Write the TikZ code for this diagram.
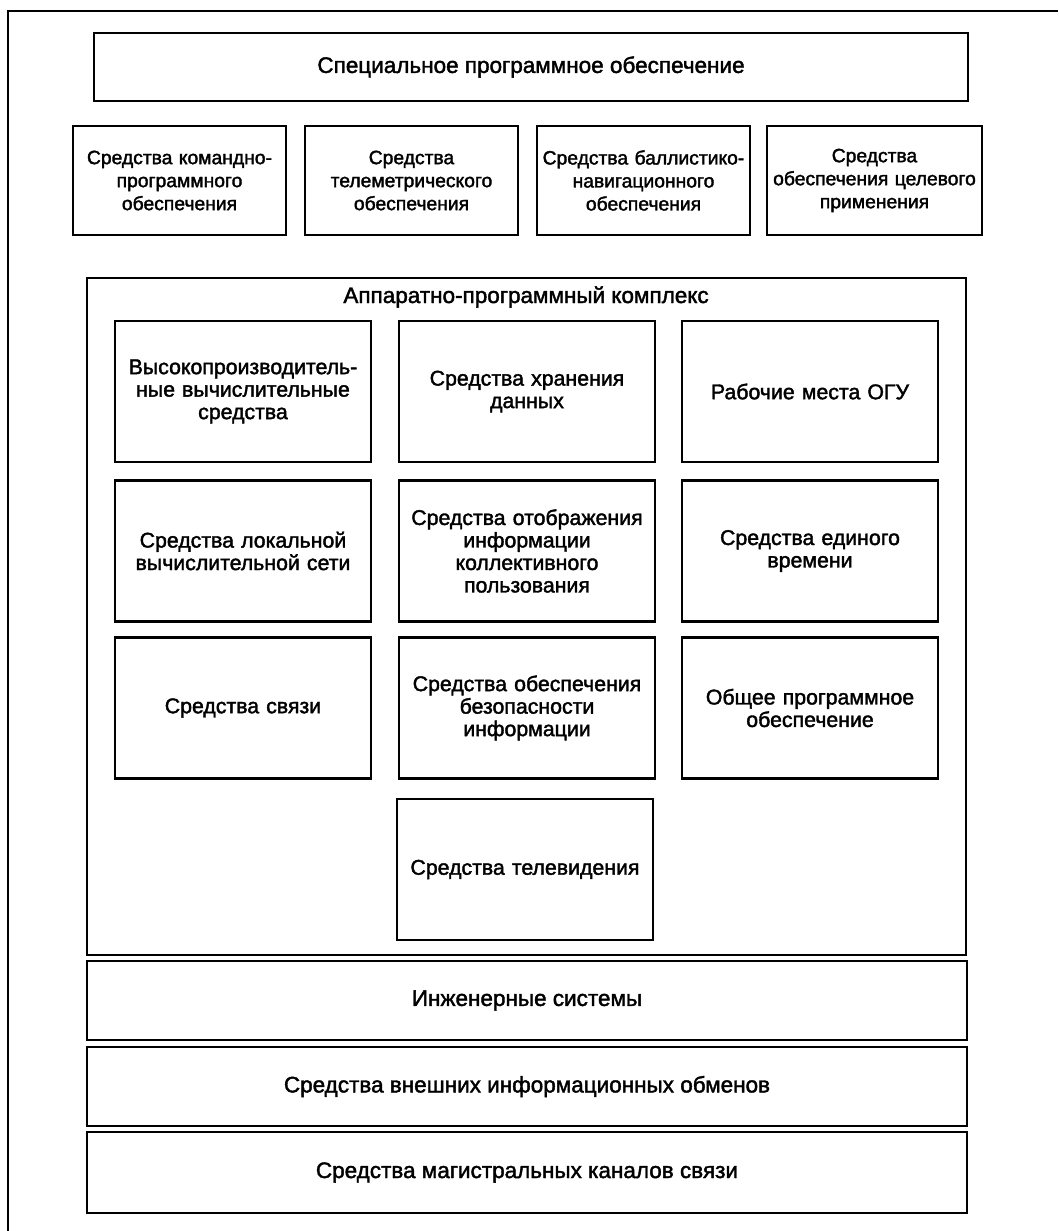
\documentclass[tikz,border=0pt]{standalone}
\usepackage{fontspec}
\setmainfont{Liberation Sans}[FakeBold=1.8]
\begin{document}
\begin{tikzpicture}[x=1pt,y=-1pt,
  box/.style={draw, line width=2.3pt, align=center, inner sep=0pt, fill=white},
  bigfont/.style={font=\fontsize{22.5}{26}\selectfont},
  midfont/.style={font=\fontsize{21.3}{22.5}\selectfont},
  smallfont/.style={font=\fontsize{19.3}{23}\selectfont},
  topbox/.style={box, smallfont, minimum width=213pt, minimum height=109pt, text width=210pt},
  cell/.style={box, midfont, minimum width=256pt, minimum height=141pt, text width=250pt},
  wide/.style={box, bigfont, minimum width=880pt, minimum height=79pt}
]
\useasboundingbox (0,0) rectangle (1058,1231);
\draw[line width=1.6pt] (8,1231) -- (8,11) -- (1058,11);

\node[box, bigfont, minimum width=874pt, minimum height=68pt] (spo) at (531,67) {Специальное программное обеспечение};

\node[topbox] (kpo) at (179.5,180.5) {Средства командно-\\программного\\обеспечения};
\node[topbox] (tmo) at (411.5,180.5) {Средства\\телеметрического\\обеспечения};
\node[topbox] (bno) at (643.5,180.5) {Средства баллистико-\\навигационного\\обеспечения};
\node[topbox, minimum width=215pt] (tsp) at (874.5,180.5) {Средства\\обеспечения целевого\\применения};

\node[box, minimum width=879pt, minimum height=677pt] (apk) at (526.5,616.5) {};
\node[bigfont, inner sep=0pt] (apkt) at (526,297) {Аппаратно-программный комплекс};

\node[cell] (hpc) at (243,391.5) {Высокопроизводитель-\\ные вычислительные\\средства};
\node[cell] (shd) at (527,391.5) {Средства хранения\\данных\\[12pt]};
\node[cell] (rm) at (810,391.5) {Рабочие места ОГУ};

\node[cell] (lvs) at (243,551) {Средства локальной\\вычислительной сети};
\node[cell] (soi) at (527,551) {Средства отображения\\информации\\коллективного\\пользования};
\node[cell] (sev) at (810,551) {Средства единого\\времени};

\node[cell] (svz) at (243,708) {Средства связи};
\node[cell] (sob) at (527,708) {Средства обеспечения\\безопасности\\информации\\[6pt]};
\node[cell] (opo) at (810,708) {Общее программное\\обеспечение};

\node[cell] (tv) at (525,869.5) {Средства телевидения};

\node[wide] (eng) at (527,1000.5) {Инженерные системы};
\node[wide] (ext) at (527,1086.5) {Средства внешних информационных обменов};
\node[wide, minimum height=81pt] (mag) at (527,1172.5) {Средства магистральных каналов связи};
\end{tikzpicture}
\end{document}
